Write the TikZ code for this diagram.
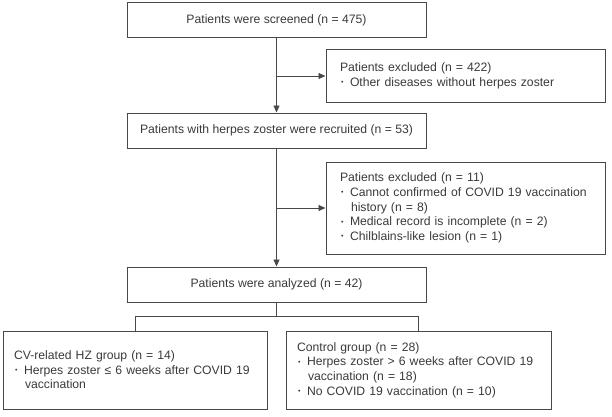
\documentclass[tikz,border=0pt]{standalone}
\usepackage{fontspec}
\setmainfont{Liberation Sans}
\usetikzlibrary{arrows.meta}
\definecolor{txtgray}{HTML}{3A3A3A}
\definecolor{linegray}{HTML}{484848}
\newcommand{\bul}{\makebox[10pt][l]{\hspace{1pt}\raisebox{1.6pt}{\fontsize{7}{7}\selectfont •}}}
\newcommand{\cont}{\hspace*{11pt}}
\tikzset{
  box/.style={draw=linegray, line width=1pt, text=txtgray, align=center, inner sep=0pt,
    minimum width=299pt, minimum height=35pt, font=\fontsize{12.2}{14.6}\selectfont},
  listbox/.style={draw=linegray, line width=1pt, text=txtgray, align=left, inner xsep=11pt,
    inner ysep=0pt, text width=#1, font=\fontsize{12.2}{14.6}\selectfont},
  arr/.style={-{Triangle[length=7pt,width=6pt]}, draw=linegray, line width=0.9pt},
  link/.style={draw=linegray, line width=0.9pt}
}
\begin{document}
\begin{tikzpicture}[x=1pt,y=1pt]
\useasboundingbox (0,0) rectangle (612,416);
\node[box] (screened) at (276.5,395.5) {Patients were screened (n = 475)};
\node[listbox=257pt, minimum height=52pt] (excl1) at (465.5,340) {\hspace*{3pt}Patients excluded (n = 422)\\
\hspace*{3pt}\bul Other diseases without herpes zoster};
\node[box] (recruited) at (276.5,285.5) {Patients with herpes zoster were recruited (n = 53)};
\node[listbox=257pt, minimum height=92pt] (excl2) at (465.5,208) {\hspace*{3pt}Patients excluded (n = 11)\\
\hspace*{3pt}\bul Cannot confirmed of COVID 19 vaccination\\
\hspace*{3pt}\cont history (n = 8)\\
\hspace*{3pt}\bul Medical record is incomplete (n = 2)\\
\hspace*{3pt}\bul Chilblains-like lesion (n = 1)};
\node[box] (analyzed) at (276.5,131.5) {Patients were analyzed (n = 42)};
\node[listbox=242pt, minimum height=78pt] (cvgroup) at (135,46) {CV-related HZ group (n = 14)\\
\bul Herpes zoster ≤ 6 weeks after COVID 19\\
\cont vaccination};
\node[listbox=243pt, minimum height=78pt] (control) at (418.5,46) {Control group (n = 28)\\
\bul Herpes zoster > 6 weeks after COVID 19\\
\cont vaccination (n = 18)\\
\bul No COVID 19 vaccination (n = 10)};
\draw[arr] (screened) -- (recruited);
\draw[arr] (screened.south |- excl1.west) -- (excl1);
\draw[arr] (recruited) -- (analyzed);
\draw[arr] (recruited.south |- excl2.west) -- (excl2);
\draw[link] (analyzed.south) -- ++(0,-14) coordinate (split);
\draw[link] (cvgroup.north) |- (split) -| (control.north);
\end{tikzpicture}
\end{document}
